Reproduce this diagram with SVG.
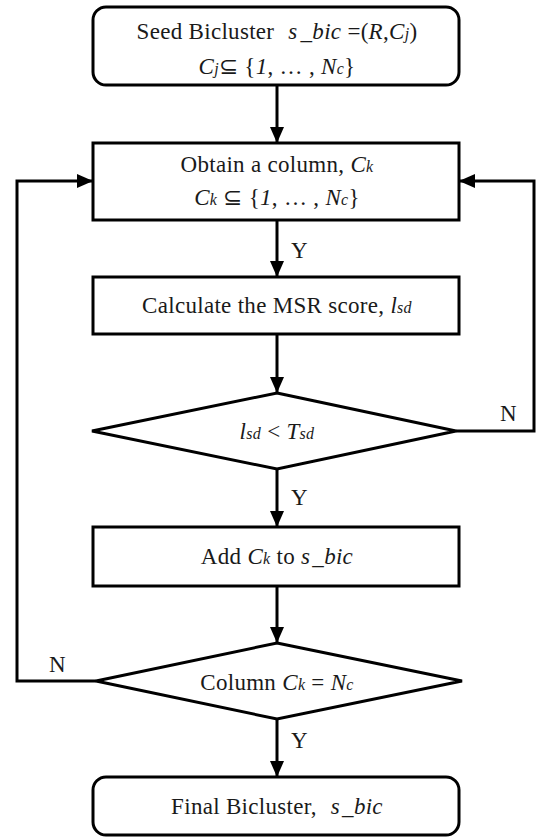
<svg xmlns="http://www.w3.org/2000/svg" width="536" height="838" viewBox="0 0 536 838">
<defs>
<marker id="ah" viewBox="0 0 16 14" refX="16" refY="7" markerWidth="16" markerHeight="14" markerUnits="userSpaceOnUse" orient="auto">
<path d="M0,0 L16,7 L0,14 Z" fill="#000"/>
</marker>
<style>
.shape{fill:#fff;stroke:#000;stroke-width:3}
.arr{fill:none;stroke:#000;stroke-width:3;marker-end:url(#ah)}
text{font-family:"Liberation Serif","Times New Roman",serif;font-size:23px;letter-spacing:0.3px;fill:#1a1a1a}
.c{text-anchor:middle}
.i{font-style:italic}
.s{font-size:16px;font-style:italic}
</style>
</defs>
<rect width="536" height="838" fill="#fff"/>
<g id="connectors">
<path class="arr" d="M277,85 V143"/>
<path class="arr" d="M277,220 V277"/>
<path class="arr" d="M277,334 V393"/>
<path class="arr" d="M277,469 V527"/>
<path class="arr" d="M277,586 V643"/>
<path class="arr" d="M277,719 V777"/>
<path class="arr" d="M456,431 H534 V181 H459"/>
<path class="arr" d="M96,681 H17 V181 H93"/>
<text x="291" y="258">Y</text>
<text x="291" y="505">Y</text>
<text x="291" y="748">Y</text>
<text x="500" y="421">N</text>
<text x="49" y="672">N</text>
</g>
<g id="seed">
<rect class="shape" x="93" y="7" width="366" height="78" rx="13"/>
<text class="c" x="277" y="39">Seed Bicluster<tspan class="i" dx="14">s</tspan><tspan class="i" dx="3">_bic</tspan><tspan dx="6">=(</tspan><tspan class="i">R</tspan>,<tspan class="i">C</tspan><tspan class="s">j</tspan>)</text>
<text class="c" x="277" y="74"><tspan class="i">C</tspan><tspan class="s">j</tspan>⊆ {<tspan class="i">1</tspan>, … , <tspan class="i">N</tspan><tspan class="s">c</tspan>}</text>
</g>
<g id="obtain">
<rect class="shape" x="93" y="143" width="366" height="77"/>
<text class="c" x="277" y="172">Obtain a column, <tspan class="i">C</tspan><tspan class="s">k</tspan></text>
<text class="c" x="277" y="205"><tspan class="i">C</tspan><tspan class="s">k</tspan> ⊆ {<tspan class="i">1</tspan>, … , <tspan class="i">N</tspan><tspan class="s">c</tspan>}</text>
</g>
<g id="calc">
<rect class="shape" x="93" y="277" width="366" height="57"/>
<text class="c" x="277" y="313">Calculate the MSR score, <tspan class="i">l</tspan><tspan class="s">sd</tspan></text>
</g>
<g id="check-lsd">
<polygon class="shape" points="277,393 456,431 277,469 92,431"/>
<text class="c" x="277" y="439"><tspan class="i">l</tspan><tspan class="s">sd</tspan> &lt; <tspan class="i">T</tspan><tspan class="s">sd</tspan></text>
</g>
<g id="add">
<rect class="shape" x="93" y="527" width="366" height="59"/>
<text class="c" x="277" y="564">Add <tspan class="i">C</tspan><tspan class="s">k</tspan> to <tspan class="i">s</tspan><tspan class="i" dx="2">_bic</tspan></text>
</g>
<g id="check-col">
<polygon class="shape" points="277,643 462,681 277,719 96,681"/>
<text class="c" x="277" y="690">Column <tspan class="i">C</tspan><tspan class="s">k</tspan> = <tspan class="i">N</tspan><tspan class="s">c</tspan></text>
</g>
<g id="final">
<rect class="shape" x="93" y="777" width="366" height="58" rx="13"/>
<text class="c" x="277" y="814">Final Bicluster,<tspan class="i" dx="14">s</tspan><tspan class="i" dx="2">_bic</tspan></text>
</g>
</svg>
